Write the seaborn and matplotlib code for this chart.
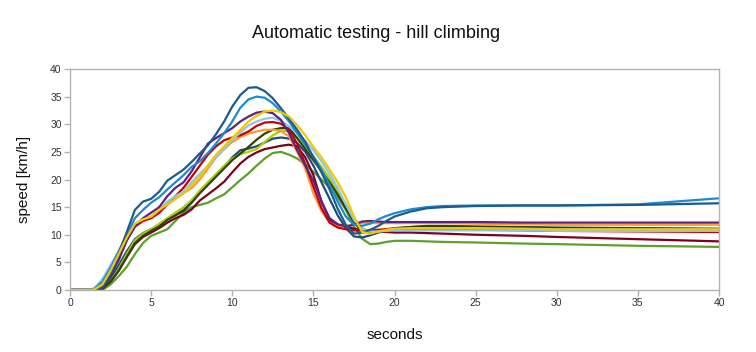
import numpy as np
import pandas as pd
import matplotlib
matplotlib.use("Agg")
import matplotlib.pyplot as plt
import seaborn as sns

# time samples (seconds)
t = [0, 1, 1.5, 2, 2.5, 3, 3.5, 4, 4.5, 5, 5.5, 6, 6.5, 7, 7.5, 8, 8.5, 9, 9.5, 10,
     10.5, 11, 11.5, 12, 12.5, 13, 13.5, 14, 14.5, 15, 15.5, 16, 16.5, 17, 17.5, 18,
     18.5, 19, 19.5, 20, 21, 22, 23, 25, 28, 30, 35, 40]

run_dark_blue = [0, 0, 0, 0.5, 3, 6.5, 10.5, 14.5, 16, 16.5, 17.8, 19.8, 20.8, 21.8, 23.2, 24.7, 26.2, 28.2, 30.5, 33.2,
                 35.3, 36.6, 36.7, 36, 34.7, 32.9, 31, 29, 26.8, 24, 21.3, 18.2, 14.7, 11.8, 10.2, 10.4,
                 10.9, 11.6, 12.5, 13.3, 14.2, 14.8, 15, 15.2, 15.3, 15.3, 15.4, 15.7]
run_blue = [0, 0, 0.2, 1.5, 4, 7, 10, 13, 14.5, 15.8, 16.8, 18.2, 19.5, 20.8, 22.3, 23.3, 24.8, 26.5, 28.4, 30.5,
            33, 34.5, 35, 34.8, 33.8, 32.3, 30.5, 28.4, 26.3, 24.1, 21.8, 19, 16, 13.3, 11.8, 11.6,
            12, 12.8, 13.4, 13.9, 14.6, 15, 15.2, 15.3, 15.3, 15.3, 15.5, 16.6]
run_purple = [0, 0, 0, 0.3, 2.5, 5.5, 9, 11.5, 13, 14, 15, 17, 18.5, 19.5, 21.5, 24, 26.5, 27.5, 28.4, 29.3,
              30.5, 31.4, 32.1, 32.3, 32, 30.8, 28.4, 25.3, 22.5, 19.8, 16, 13, 11.9, 11.5, 11.8, 12.4,
              12.5, 12.4, 12.3, 12.3, 12.3, 12.3, 12.3, 12.3, 12.2, 12.2, 12.2, 12.2]
run_light_blue = [0, 0, 0.3, 2, 4.5, 7, 10, 12, 12.8, 13.3, 14.5, 16, 17, 17.8, 19.5, 21, 22.5, 24, 25.5, 27.2,
                  28.5, 29.8, 30.5, 31, 31.2, 30.6, 29.6, 28.4, 27, 25.3, 23.3, 21, 18.5, 15.5, 12.7, 11,
                  10.6, 10.6, 10.7, 10.8, 10.8, 10.8, 10.8, 10.8, 10.8, 10.7, 10.7, 10.7]
run_red = [0, 0, 0, 0.5, 3, 5.5, 9, 11.5, 12.5, 13, 14, 15.5, 17, 18.5, 20.5, 22.5, 24.5, 26, 27.1, 27.6,
           28, 28.7, 29.7, 30.3, 30.4, 30.1, 29, 26.5, 22.8, 18.7, 14.8, 12.2, 11.3, 11, 10.8, 10.7,
           10.8, 10.9, 11, 11, 11, 11, 11, 10.9, 10.8, 10.7, 10.6, 10.5]
run_orange = [0, 0, 0.2, 1.5, 4, 6.5, 9.5, 11.5, 12.5, 13, 14, 15.5, 16.5, 17.5, 18.5, 20, 22, 24, 25.5, 26.8,
              27.7, 28.3, 28.7, 29, 29, 28.8, 27.8, 25, 22, 17.5, 14.3, 12.2, 11.5, 11.6, 11.9, 12.1,
              12.1, 12.1, 12.1, 12.1, 12.1, 12.1, 12.1, 12, 11.9, 11.8, 11.8, 11.8]
run_olive = [0, 0, 0, 0.2, 1.5, 3.5, 6, 8.5, 9.8, 10.7, 11.5, 12.7, 13.5, 14.3, 15.8, 17.5, 19, 20.5, 22, 23.5,
             24.7, 25.9, 27.2, 28.3, 29, 29.3, 29.3, 27.5, 25.5, 23.5, 21.5, 19.5, 17.3, 14.8, 12.3, 10.5,
             10.4, 10.7, 11, 11.2, 11.4, 11.5, 11.5, 11.4, 11.3, 11.2, 11.1, 11]
run_lime = [0, 0, 0, 0.2, 1.5, 3.8, 6.5, 9, 10.2, 11, 12, 13, 14, 15, 16.3, 18, 19.5, 21, 22.5, 23.8,
            24.6, 25, 25.5, 26.8, 28, 28.8, 28.8, 27.5, 26, 24.2, 22.3, 20.2, 18, 15.5, 13, 11.2,
            10.5, 10.6, 10.8, 11, 11.1, 11.2, 11.2, 11.2, 11.1, 11.1, 11, 11]
run_navy = [0, 0, 0, 0.3, 2, 4.5, 7, 9.2, 10.3, 11, 11.7, 12.8, 13.6, 14.5, 16, 17.8, 19.3, 20.8, 22.3, 24,
            25.3, 25.6, 26, 26.7, 27.4, 27.6, 27.4, 26.6, 25, 22.5, 19.5, 16.5, 13.5, 11.2, 9.7, 9.5,
            9.9, 10.4, 10.8, 11.1, 11.4, 11.6, 11.6, 11.5, 11.4, 11.3, 11.2, 11.1]
run_maroon = [0, 0, 0, 0.2, 1.5, 3.5, 6, 8.3, 9.6, 10.4, 11.2, 12.2, 13, 13.6, 14.6, 16.2, 17.3, 18.4, 19.6, 21.3,
              22.9, 24.1, 24.9, 25.5, 25.8, 26.1, 26.3, 26, 24, 20.8, 16, 12.7, 11.8, 11.5, 11.1, 10.8,
              10.6, 10.5, 10.5, 10.4, 10.4, 10.3, 10.2, 10, 9.8, 9.6, 9.2, 8.8]
run_green = [0, 0, 0, 0, 1, 2.5, 4.2, 6.5, 8.5, 9.8, 10.4, 11, 12.5, 14, 15, 15.4, 15.8, 16.6, 17.3, 18.6,
             19.9, 21.1, 22.5, 23.8, 24.8, 25, 24.5, 23.8, 22.7, 21.4, 20, 18.5, 16.8, 14.5, 11.5, 9.3,
             8.3, 8.4, 8.7, 8.9, 8.9, 8.8, 8.7, 8.6, 8.4, 8.3, 8, 7.8]
run_yellow = [0, 0, 0.1, 1, 3.5, 6.5, 9.5, 12, 12.8, 13.3, 14.5, 15.5, 16.5, 17.5, 19, 20.5, 22.5, 24.5, 26, 27.5,
              29, 30.5, 31.5, 32.3, 32.5, 32.2, 31.4, 29.8, 28, 25.9, 24, 21.8, 19.5, 16.8, 13.3, 10.5,
              10.2, 10.6, 10.9, 11.1, 11.2, 11.2, 11.2, 11.2, 11.1, 11, 11, 11]

series = {
    "run 1": (run_green, "#5fa02c"),
    "run 2": (run_maroon, "#7e0021"),
    "run 3": (run_navy, "#1f4e7a"),
    "run 4": (run_lime, "#aecf00"),
    "run 5": (run_olive, "#314004"),
    "run 6": (run_orange, "#ff9a2e"),
    "run 7": (run_red, "#c5000b"),
    "run 8": (run_light_blue, "#8ac6ee"),
    "run 9": (run_purple, "#5b2382"),
    "run 10": (run_blue, "#1c8bd1"),
    "run 11": (run_dark_blue, "#1f5a8c"),
    "run 12": (run_yellow, "#f2c800"),
}

frames = []
for name, (vals, col) in series.items():
    frames.append(pd.DataFrame({"seconds": t, "speed": vals, "run": name}))
df = pd.concat(frames, ignore_index=True)
palette = {name: col for name, (vals, col) in series.items()}

sns.set_style("white")
plt.rcParams['font.family'] = ['Liberation Sans', 'DejaVu Sans']

fig = plt.figure(figsize=(7.56, 3.52), dpi=100)
ax = fig.add_axes([70 / 756, 1 - 290 / 352, 649 / 756, 221 / 352])

sns.lineplot(data=df, x="seconds", y="speed", hue="run", palette=palette,
             linewidth=1.6, legend=False, ax=ax, estimator=None, sort=False)

ax.set_xlim(0, 40)
ax.set_ylim(0, 40)
ax.set_xticks(range(0, 41, 5))
ax.set_yticks(range(0, 41, 5))
for s in ax.spines.values():
    s.set_color("#b3b3b3")
    s.set_linewidth(1.0)
ax.tick_params(axis="both", which="both", direction="out", length=4, width=1,
               color="#b3b3b3", labelsize=7.5, labelcolor="#333333", pad=2,
               bottom=True, left=True)
ax.set_xlabel("seconds", fontsize=11, color="#111111", labelpad=14)
ax.set_ylabel("speed [km/h]", fontsize=11, color="#111111", labelpad=14)
fig.text(376 / 756, 1 - 33 / 352, "Automatic testing - hill climbing",
         ha="center", va="center", fontsize=13, color="#111111")

fig.savefig("out.png", dpi=100)
